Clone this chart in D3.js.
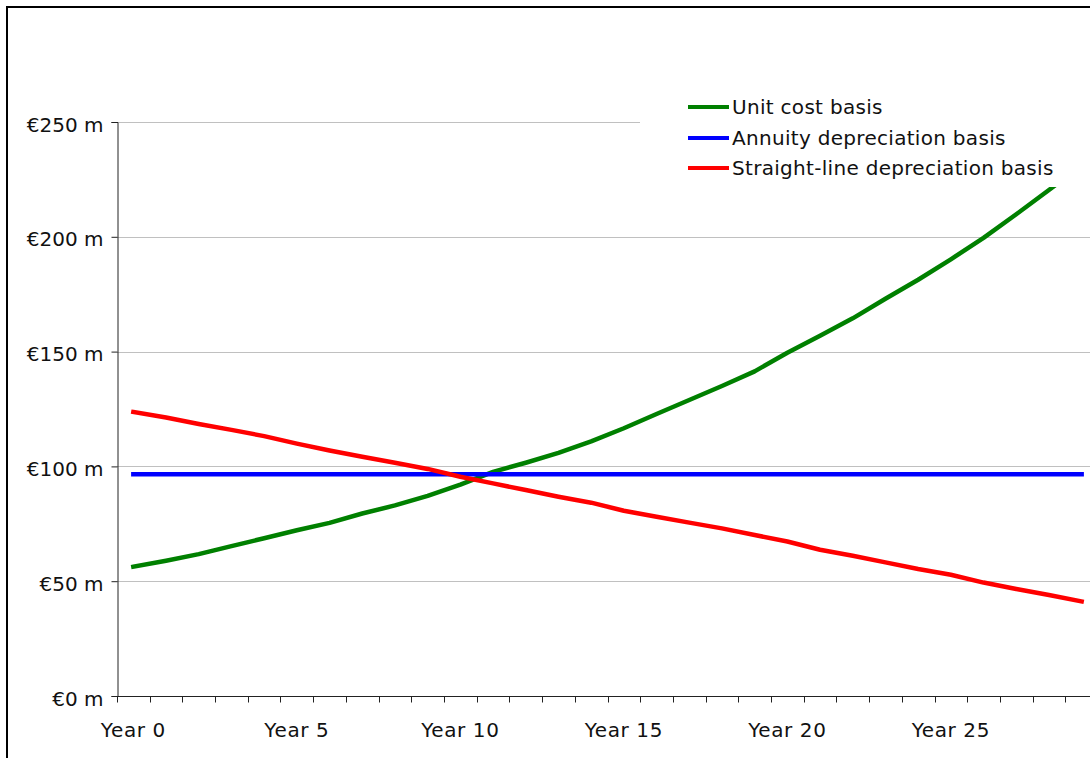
<!DOCTYPE html>
<html>
<head>
<meta charset="utf-8">
<script src="https://cdn.jsdelivr.net/npm/d3@7"></script>
<style>
  html, body { margin: 0; padding: 0; background: #fff; }
  svg { display: block; font-family: "DejaVu Sans", Verdana, sans-serif; }
</style>
</head>
<body>
<svg id="chart" width="1090" height="758"></svg>
<script>
// Years 0..29
const years = d3.range(30).map(i => `Year ${i}`);

// Annual cost under each basis (€ million)
const unitCost = [56.3, 58.9, 61.8, 65.3, 68.7, 72.2, 75.4, 79.5, 83.0, 87.2,
                  92.1, 97.6, 101.6, 105.9, 110.9, 116.6, 122.8, 128.9, 135.0, 141.4,
                  149.5, 156.9, 164.5, 173.0, 181.3, 190.2, 199.5, 209.8, 220.4, 231.0];
const annuity = [96.6, 96.6, 96.6, 96.6, 96.6, 96.6, 96.6, 96.6, 96.6, 96.6,
                 96.6, 96.6, 96.6, 96.6, 96.6, 96.6, 96.6, 96.6, 96.6, 96.6,
                 96.6, 96.6, 96.6, 96.6, 96.6, 96.6, 96.6, 96.6, 96.6, 96.6];
const straightLine = [123.7, 121.3, 118.5, 115.9, 113.2, 109.9, 106.9, 104.2, 101.6, 98.9,
                      95.5, 92.6, 89.7, 86.8, 84.2, 80.7, 78.1, 75.5, 73.0, 70.1,
                      67.3, 63.7, 61.1, 58.2, 55.3, 52.8, 49.4, 46.6, 44.0, 41.2];

const yTicks = [0, 50, 100, 150, 200, 250];
const labelledYears = ["Year 0", "Year 5", "Year 10", "Year 15", "Year 20", "Year 25"];

const series = [
  { name: "Unit cost basis", values: unitCost, color: "#008000" },
  { name: "Annuity depreciation basis", values: annuity, color: "#0000ff" },
  { name: "Straight-line depreciation basis", values: straightLine, color: "#ff0000" }
];

const svg = d3.select("#chart");
const FONT = 20;

// outer frame (runs past the right and bottom edges)
svg.append("rect")
  .attr("x", 7).attr("y", 7)
  .attr("width", 1300).attr("height", 1000)
  .attr("fill", "none").attr("stroke", "#000").attr("stroke-width", 2);

const plot = { left: 117, right: 1098, top: 122, bottom: 696 };

const x = d3.scaleBand().domain(years).range([plot.left, plot.right]).padding(0);
const y = d3.scaleLinear().domain([0, 250]).range([plot.bottom, plot.top]);

// horizontal gridlines
svg.append("g")
  .selectAll("line")
  .data(yTicks.filter(d => d > 0))
  .join("line")
  .attr("x1", plot.left).attr("x2", plot.right)
  .attr("y1", d => Math.round(y(d)) + 0.5).attr("y2", d => Math.round(y(d)) + 0.5)
  .attr("stroke", "#c0c0c0").attr("stroke-width", 1);

// series lines
const line = d3.line()
  .x((d, i) => x(years[i]) + x.bandwidth() / 2)
  .y(d => y(d));

svg.append("g")
  .selectAll("path")
  .data(series)
  .join("path")
  .attr("d", s => line(s.values))
  .attr("fill", "none")
  .attr("stroke", s => s.color)
  .attr("stroke-width", 4.5)
  .attr("stroke-linecap", "square")
  .attr("stroke-linejoin", "round");

// y axis
const yAxis = svg.append("g")
  .attr("transform", `translate(${plot.left + 0.5},0)`)
  .call(d3.axisLeft(y).tickValues(yTicks).tickSize(6).tickPadding(8)
    .tickFormat(d => `€${d} m`));
yAxis.select(".domain").attr("stroke", "#222");
yAxis.selectAll(".tick line").attr("stroke", "#222");
yAxis.selectAll(".tick text")
  .attr("font-family", "DejaVu Sans, Verdana, sans-serif")
  .attr("font-size", FONT).attr("fill", "#111")
  .attr("dy", "0.45em");

// x axis: line + boundary ticks + every fifth label
const xAxis = svg.append("g").attr("transform", `translate(0,${plot.bottom + 0.5})`);
xAxis.append("line")
  .attr("x1", plot.left).attr("x2", plot.right)
  .attr("stroke", "#222");
const boundaries = years.map(c => x(c)).concat([x(years[years.length - 1]) + x.step()]);
xAxis.selectAll("line.tick")
  .data(boundaries)
  .join("line")
  .attr("class", "tick")
  .attr("x1", d => Math.round(d) + 0.5).attr("x2", d => Math.round(d) + 0.5)
  .attr("y1", 0).attr("y2", 6)
  .attr("stroke", "#222");
xAxis.selectAll("text")
  .data(labelledYears)
  .join("text")
  .attr("x", d => x(d) + x.bandwidth() / 2)
  .attr("y", 40)
  .attr("text-anchor", "middle")
  .attr("font-size", FONT)
  .attr("letter-spacing", 0.6)
  .attr("fill", "#111")
  .text(d => d);

// legend with white background
const legend = svg.append("g");
legend.append("rect")
  .attr("x", 640).attr("y", 85)
  .attr("width", 460).attr("height", 102)
  .attr("fill", "#fff");
const rowY = [107, 138, 168];
series.forEach((s, i) => {
  legend.append("line")
    .attr("x1", 688).attr("x2", 729)
    .attr("y1", rowY[i]).attr("y2", rowY[i])
    .attr("stroke", s.color).attr("stroke-width", 4);
  legend.append("text")
    .attr("x", 732).attr("y", rowY[i])
    .attr("dy", "0.36em")
    .attr("font-size", FONT)
    .attr("letter-spacing", 0.3)
    .attr("fill", "#111")
    .text(s.name);
});
</script>
</body>
</html>
